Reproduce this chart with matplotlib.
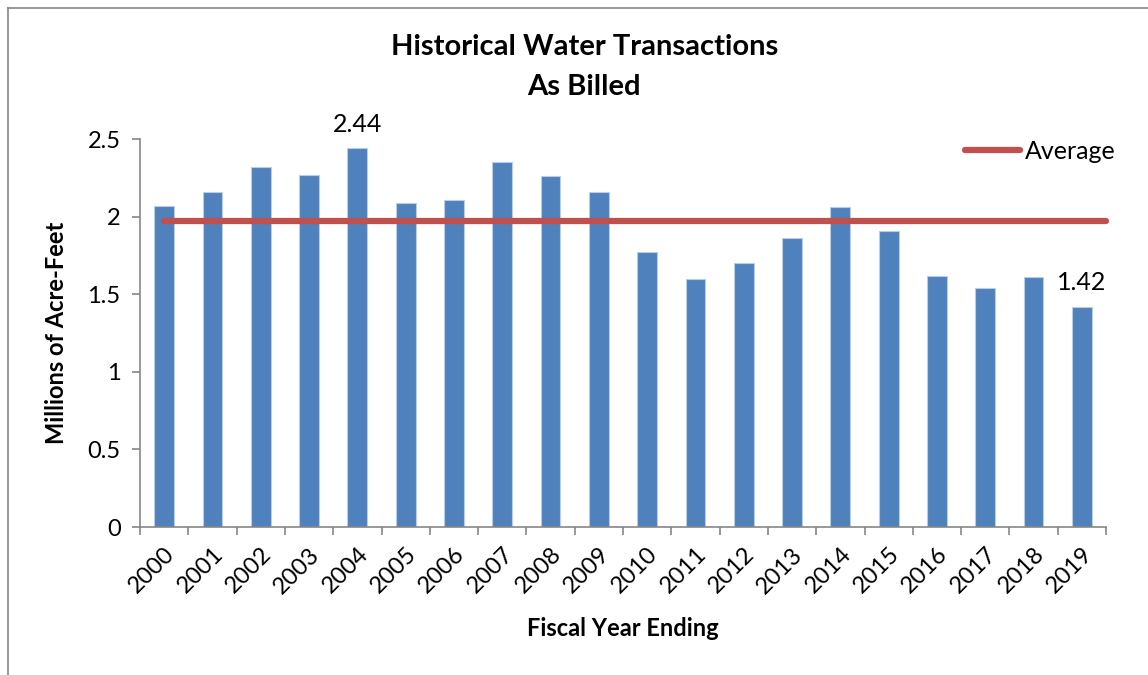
import matplotlib.pyplot as plt
from matplotlib.lines import Line2D

years = [str(y) for y in range(2000, 2020)]
billed = [2.07, 2.16, 2.32, 2.27, 2.44, 2.09, 2.11, 2.35, 2.26, 2.16,
          1.77, 1.60, 1.70, 1.86, 2.06, 1.91, 1.62, 1.54, 1.61, 1.42]
average = 1.97
labelled = {"2004": "2.44", "2019": "1.42"}

plt.rcParams["font.family"] = ["Lato", "DejaVu Sans"]

fig = plt.figure(figsize=(11.48, 6.75), dpi=100)
ax = fig.add_axes([140 / 1148, 1 - 527 / 675, 966 / 1148, 388 / 675])

x = list(range(len(years)))
ax.bar(x, billed, width=0.41, color="#4F81BD", edgecolor="#B9CDE5", linewidth=0.8)
# average series runs from the first bar centre to the right edge of the plot
ax.plot([x[0], len(years) - 0.5], [average, average], color="#C0504D", lw=4.5,
        solid_capstyle="round", label="Average", clip_on=False)

for i, yr in enumerate(years):
    if yr in labelled:
        ax.text(i, billed[i] + 0.08, labelled[yr], ha="center", va="bottom", fontsize=18)

ax.set_xlim(-0.5, len(years) - 0.5)
ax.set_ylim(0, 2.5)
ax.set_yticks([0, 0.5, 1, 1.5, 2, 2.5])
ax.set_yticklabels(["0", "0.5", "1", "1.5", "2", "2.5"], fontsize=17)
ax.set_xticks([i - 0.5 for i in range(len(years) + 1)])
ax.set_xticklabels([])
ax.set_xticks(x, minor=True)
ax.set_xticklabels(years, minor=True, rotation=45, ha="right", rotation_mode="anchor", fontsize=17)
ax.tick_params(axis="x", which="minor", length=0, pad=12)
ax.tick_params(axis="x", which="major", length=6, color="#868686", width=1.2)
ax.tick_params(axis="y", length=6, color="#868686", width=1.2, pad=8)

for side in ["top", "right"]:
    ax.spines[side].set_visible(False)
for side in ["left", "bottom"]:
    ax.spines[side].set_color("#868686")
    ax.spines[side].set_linewidth(1.2)

ax.set_xlabel("Fiscal Year Ending", fontsize=17, fontweight="bold", labelpad=14)
ax.set_ylabel("Millions of Acre-Feet", fontsize=17, fontweight="bold", labelpad=14)

fig.text(0.509, 1 - 47 / 675, "Historical Water Transactions", ha="center", va="center",
         fontsize=21, fontweight="bold")
fig.text(0.509, 1 - 87 / 675, "As Billed", ha="center", va="center",
         fontsize=21, fontweight="bold")

handle = Line2D([0], [0], color="#C0504D", lw=4.5, solid_capstyle="round")
ax.legend([handle], ["Average"], loc="upper right", bbox_to_anchor=(1.033, 1.055),
          frameon=False, fontsize=18, handlelength=2.2, handletextpad=0.2)

# outer chart border
fig.add_artist(Line2D([8 / 1148, 8 / 1148], [0, 1 - 8 / 675], color="#868686", lw=1.2))
fig.add_artist(Line2D([8 / 1148, 1], [1 - 8 / 675, 1 - 8 / 675], color="#868686", lw=1.2))

fig.savefig("out.png", dpi=100)
